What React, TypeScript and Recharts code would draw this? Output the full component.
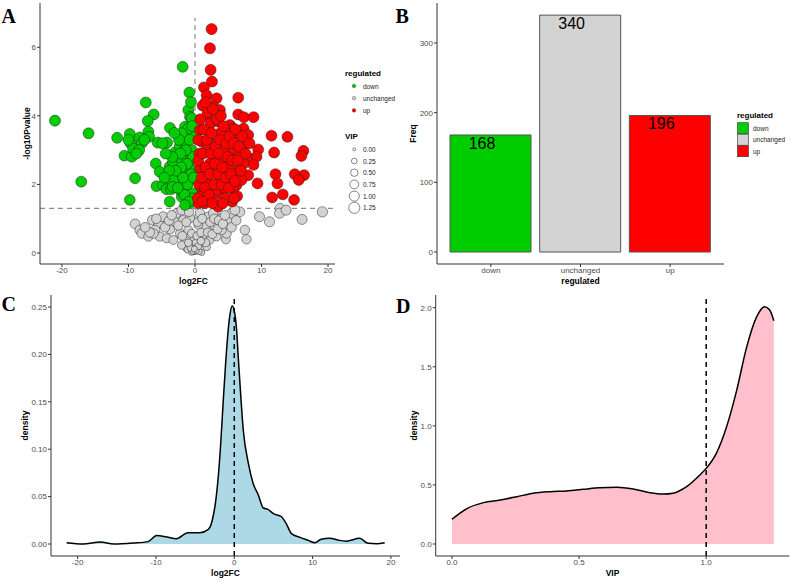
import React from "react";
import {
  ScatterChart,
  Scatter,
  XAxis,
  YAxis,
  ZAxis,
  ReferenceLine,
  BarChart,
  Bar,
  Cell,
  LabelList,
  AreaChart,
  Area,
  Label,
} from "recharts";

const FONT = "'Liberation Sans', Arial, sans-serif";

// volcano points: [log2FC, -log10Pvalue, VIP]
const downPoints: [number, number, number][] = [
  [-21.05, 3.86, 1.22], [-16.0, 3.49, 1.2], [-17.1, 2.08, 1.2], [-7.4, 4.39, 1.2], [-6.2, 4.04, 1.18],
  [-1.85, 5.43, 1.2], [-0.85, 4.68, 1.18], [-1.0, 4.17, 1.2], [-0.75, 3.97, 1.2], [-3.76, 3.65, 1.18],
  [-7.1, 3.85, 1.2], [-9.8, 1.55, 1.15], [-9.0, 2.18, 1.18], [-11.7, 3.36, 1.2], [-10.6, 2.84, 1.18],
  [-9.8, 3.47, 1.2], [-9.5, 2.81, 1.2], [-9.7, 3.2, 1.18], [-9.3, 3.05, 1.2], [-8.3, 3.37, 1.2],
  [-8.0, 3.2, 1.18], [-8.4, 3.0, 1.2], [-7.0, 3.54, 1.2], [-6.9, 3.39, 1.18], [-5.6, 3.22, 1.2],
  [-5.9, 2.61, 1.18], [-5.3, 2.37, 1.2], [-5.8, 1.95, 1.15], [-4.8, 1.98, 1.2], [-4.3, 1.86, 1.18],
  [-3.6, 1.86, 1.2], [-3.8, 1.5, 1.15], [-4.2, 3.22, 1.2], [-3.8, 2.52, 1.18], [-3.3, 2.66, 1.2],
  [-2.8, 2.27, 1.18], [-3.0, 2.93, 1.2], [-2.3, 3.1, 1.18], [-2.0, 2.73, 1.2], [-1.75, 2.42, 1.18],
  [-1.5, 3.25, 1.2], [-1.75, 2.95, 1.18], [-1.5, 3.68, 1.2], [-1.25, 1.93, 1.15], [-1.0, 1.55, 1.12],
  [-2.0, 1.64, 1.15], [-0.75, 2.13, 1.18], [-0.5, 2.42, 1.18], [-0.5, 3.0, 1.2], [-0.35, 3.39, 1.18],
  [-0.5, 3.93, 1.2], [-1.0, 3.63, 1.2], [-0.75, 1.45, 1.12], [-2.25, 1.84, 1.15], [-2.5, 2.08, 1.18],
  [-3.25, 2.13, 1.18], [-2.0, 3.49, 1.2], [-1.25, 2.81, 1.18], [-0.65, 2.71, 1.2], [-0.35, 1.74, 1.15],
  [-3.35, 1.93, 1.18], [-0.4, 1.6, 1.12], [-0.6, 2.3, 1.16], [-0.3, 2.8, 1.18], [-0.8, 3.3, 1.2],
  [-0.4, 3.7, 1.2], [-1.1, 2.0, 1.15], [-1.2, 2.6, 1.18], [-1.4, 3.0, 1.2], [-1.6, 1.7, 1.14],
  [-1.8, 2.2, 1.16], [-2.1, 2.5, 1.18], [-2.2, 2.9, 1.2], [-2.4, 3.3, 1.2], [-2.6, 1.9, 1.16],
  [-2.9, 2.4, 1.18], [-3.1, 3.5, 1.2], [-3.4, 2.8, 1.18], [-3.9, 2.4, 1.18], [-4.4, 2.9, 1.2],
  [-4.6, 2.2, 1.18], [-4.9, 3.2, 1.2], [-0.2, 2.2, 1.16], [-0.9, 1.5, 1.12], [-1.5, 1.4, 1.12],
  [-0.6, 4.4, 1.2], [-7.6, 3.3, 1.2], [-10.0, 3.3, 1.2], [-8.8, 2.9, 1.18],
];

const upPoints: [number, number, number][] = [
  [2.5, 6.53, 1.24], [2.25, 5.97, 1.22], [2.35, 5.34, 1.22], [2.55, 5.0, 1.22], [1.35, 4.83, 1.2],
  [1.75, 4.6, 1.2], [3.25, 4.51, 1.2], [6.5, 4.53, 1.2], [1.15, 4.3, 1.2], [2.75, 4.27, 1.2],
  [3.75, 4.17, 1.2], [2.0, 4.02, 1.2], [6.5, 4.04, 1.2], [7.35, 3.96, 1.2], [8.8, 3.96, 1.2],
  [2.35, 3.78, 1.2], [3.5, 3.83, 1.2], [5.25, 3.73, 1.2], [5.75, 3.63, 1.2], [7.3, 3.63, 1.2],
  [0.75, 3.59, 1.18], [4.5, 3.54, 1.2], [3.75, 3.49, 1.2], [6.65, 3.44, 1.2], [8.0, 3.44, 1.2],
  [11.5, 3.42, 1.2], [13.9, 3.39, 1.2], [1.0, 3.25, 1.18], [2.0, 3.3, 1.2], [3.25, 3.2, 1.2],
  [5.4, 3.25, 1.2], [7.3, 3.15, 1.2], [0.65, 2.9, 1.18], [2.75, 2.86, 1.2], [5.25, 2.9, 1.2],
  [6.25, 2.93, 1.2], [9.5, 3.02, 1.2], [9.25, 2.81, 1.2], [11.9, 2.93, 1.2], [16.3, 2.98, 1.2],
  [16.0, 2.83, 1.2], [8.8, 2.57, 1.2], [0.75, 2.47, 1.18], [3.25, 2.52, 1.2], [6.75, 2.52, 1.2],
  [5.0, 2.61, 1.2], [12.1, 2.3, 1.2], [15.0, 2.3, 1.2], [16.4, 2.27, 1.2], [1.25, 2.24, 1.18],
  [3.5, 2.27, 1.2], [5.75, 2.22, 1.2], [8.0, 2.27, 1.2], [12.4, 2.03, 1.2], [15.6, 2.13, 1.2],
  [9.4, 2.03, 1.2], [1.0, 1.89, 1.16], [2.75, 1.98, 1.18], [4.75, 2.05, 1.2], [6.25, 1.98, 1.18],
  [4.0, 1.74, 1.18], [5.75, 1.84, 1.18], [0.75, 1.64, 1.15], [2.25, 1.59, 1.16], [5.0, 1.55, 1.16],
  [3.5, 1.35, 1.14], [1.5, 1.45, 1.14], [11.6, 1.62, 1.18], [13.2, 1.71, 1.18], [14.9, 1.55, 1.18],
  [5.6, 1.5, 1.16], [0.5, 1.45, 1.12], [1.75, 3.04, 1.2], [4.25, 3.0, 1.2], [5.75, 3.05, 1.2],
  [7.8, 2.81, 1.2], [7.3, 2.61, 1.2], [3.75, 2.71, 1.2], [2.25, 2.61, 1.2], [4.25, 2.37, 1.2],
  [5.25, 2.42, 1.2], [6.25, 2.32, 1.2], [2.0, 2.08, 1.18], [7.0, 2.13, 1.2], [3.15, 1.84, 1.18],
  [4.5, 1.89, 1.18], [6.35, 1.66, 1.18], [2.75, 1.55, 1.16], [0.4, 1.6, 1.12], [0.6, 2.0, 1.16],
  [0.5, 2.7, 1.18], [0.5, 3.3, 1.18], [0.8, 3.9, 1.2], [1.0, 2.2, 1.18], [1.2, 2.9, 1.2],
  [1.3, 3.6, 1.2], [1.5, 1.9, 1.16], [1.6, 2.5, 1.18], [1.8, 3.3, 1.2], [1.9, 4.1, 1.2],
  [2.1, 1.7, 1.16], [2.2, 2.3, 1.18], [2.4, 2.9, 1.2], [2.5, 3.5, 1.2], [2.7, 4.2, 1.2],
  [2.9, 2.0, 1.18], [3.0, 2.6, 1.2], [3.1, 3.1, 1.2], [3.3, 3.9, 1.2], [3.5, 2.3, 1.18],
  [3.6, 2.9, 1.2], [3.8, 3.3, 1.2], [4.0, 2.0, 1.18], [4.1, 2.5, 1.2], [4.3, 3.7, 1.2],
  [4.5, 1.6, 1.16], [4.6, 2.2, 1.18], [4.7, 3.2, 1.2], [4.9, 2.8, 1.2], [5.1, 1.9, 1.18],
  [5.2, 3.4, 1.2], [5.4, 2.3, 1.18], [5.6, 2.7, 1.2], [5.8, 3.2, 1.2], [6.0, 2.1, 1.18],
  [6.1, 3.6, 1.2], [6.4, 2.7, 1.2], [6.6, 3.1, 1.2], [6.9, 2.4, 1.2], [7.1, 3.4, 1.2],
  [7.6, 2.9, 1.2], [8.2, 3.2, 1.2], [1.1, 1.5, 1.14], [2.6, 1.45, 1.14], [4.2, 1.45, 1.14],
  [5.9, 1.6, 1.16], [3.9, 4.0, 1.2], [1.6, 4.4, 1.2],
];

const unchangedPoints: [number, number, number][] = [
  [19.15, 1.2, 1.05], [16.1, 0.98, 1.0], [12.8, 1.3, 1.0], [12.7, 1.16, 1.0], [13.7, 1.25, 1.0],
  [9.7, 1.06, 1.0], [11.2, 0.91, 1.0], [6.75, 1.2, 0.95], [7.5, 0.67, 0.9], [7.75, 0.4, 0.85],
  [4.65, 0.4, 0.8], [5.25, 0.96, 0.95], [5.5, 1.16, 0.95], [3.75, 1.01, 0.9], [-9.0, 0.85, 0.95],
  [-8.3, 0.67, 0.9], [-8.0, 0.57, 0.9], [-7.0, 0.48, 0.85], [-6.4, 0.96, 0.95], [-5.5, 0.88, 0.9],
  [-4.8, 1.06, 0.95], [-5.3, 0.48, 0.85], [-3.75, 0.69, 0.85], [-3.0, 0.91, 0.9], [-2.75, 1.16, 0.9],
  [-2.0, 1.25, 0.9], [-1.75, 0.96, 0.85], [-2.25, 0.57, 0.8], [-1.5, 0.38, 0.7], [-1.0, 0.67, 0.75],
  [-0.75, 0.23, 0.55], [-0.25, 0.09, 0.4], [0.25, 0.14, 0.45], [0.75, 0.28, 0.55], [1.25, 0.48, 0.65],
  [1.5, 0.77, 0.75], [2.0, 1.06, 0.85], [2.75, 1.16, 0.9], [2.25, 0.38, 0.65], [3.0, 0.77, 0.8],
  [1.75, 0.18, 0.55], [-1.25, 0.14, 0.5], [-0.5, 0.57, 0.65], [0.5, 0.82, 0.75], [0.75, 1.16, 0.85],
  [-0.75, 1.01, 0.8], [0.0, 0.04, 0.3], [3.25, 0.48, 0.75], [1.0, 0.02, 0.35], [-6.0, 0.67, 0.9],
  [-4.25, 0.43, 0.8], [-3.25, 0.38, 0.75], [-6.25, 0.57, 0.9], [6.0, 1.25, 0.95], [4.75, 0.57, 0.85],
  [4.0, 0.67, 0.85], [-2.0, 0.23, 0.65], [0.65, 0.38, 0.6], [-4.5, 0.75, 0.9], [-3.9, 0.95, 0.9],
  [-3.5, 1.1, 0.9], [-2.5, 0.8, 0.85], [-1.9, 0.5, 0.75], [-1.3, 0.9, 0.8], [-0.9, 1.2, 0.85],
  [-0.4, 0.35, 0.55], [-0.2, 0.2, 0.4], [0.1, 0.3, 0.45], [0.3, 0.5, 0.6], [0.4, 0.9, 0.75],
  [0.9, 0.6, 0.7], [1.1, 1.0, 0.8], [1.6, 0.3, 0.6], [1.9, 0.6, 0.7], [2.3, 0.9, 0.8],
  [2.6, 0.55, 0.75], [2.9, 1.0, 0.85], [3.4, 0.7, 0.8], [3.6, 0.95, 0.85], [4.2, 0.85, 0.85],
  [4.5, 1.1, 0.9], [5.5, 0.75, 0.9], [6.2, 0.95, 0.9], [-6.8, 0.6, 0.9], [-7.5, 0.75, 0.9],
  [-5.8, 1.0, 0.9], [-1.1, 0.1, 0.45], [0.6, 0.05, 0.35], [-0.5, 0.02, 0.3], [0.2, 0.15, 0.35],
  [-0.3, 0.05, 0.3], [0.2, 0.08, 0.3], [0.5, 0.2, 0.45], [-0.7, 0.15, 0.4], [-0.1, 0.12, 0.3],
  [0.9, 0.35, 0.55], [-1.0, 0.3, 0.55],
];

const regulatedCats = ["down", "unchanged", "up"];
const regulatedFreq = [168, 340, 196];
const regulatedColors = ["#00CD00", "#D3D3D3", "#FF0000"];

const fcDensityX = [
  -21.4, -19.3, -17.1, -15.4, -12.9, -11, -9.9, -8.6, -7.4, -5.9, -4.4, -3.3, -2.7, -2.3, -2, -1.7, -1.4,
  -1.1, -0.77, -0.55, -0.26, 0.09, 0.3, 0.5, 0.72, 1.15, 1.8, 2.4, 3.06, 3.7, 4.3, 5, 6, 6.6, 7.3, 8.4,
  9.4, 10.3, 11.1, 12.2, 13.3, 14.3, 16, 17.1, 18.2, 19.2,
];
const fcDensityY = [
  0.0014, 0, 0.002, 0, 0.001, 0.0025, 0.009, 0.0074, 0.0056, 0.012, 0.012, 0.0155, 0.029, 0.05, 0.075,
  0.11, 0.152, 0.191, 0.226, 0.242, 0.251, 0.242, 0.226, 0.198, 0.17, 0.12, 0.085, 0.064, 0.052, 0.038,
  0.0366, 0.032, 0.029, 0.022, 0.011, 0.007, 0.004, 0.0014, 0.005, 0.006, 0.004, 0.003, 0.006, 0.0007,
  0.0003, 0.0014,
];

const vipDensityX = [
  0, 0.059, 0.124, 0.19, 0.255, 0.32, 0.386, 0.45, 0.517, 0.58, 0.648, 0.713, 0.779, 0.83, 0.87, 0.923,
  0.975, 1.0, 1.04, 1.08, 1.12, 1.158, 1.198, 1.23, 1.25, 1.266,
];
const vipDensityY = [
  0.209, 0.3, 0.35, 0.372, 0.4, 0.43, 0.443, 0.449, 0.463, 0.477, 0.48, 0.465, 0.434, 0.423, 0.43, 0.485,
  0.584, 0.64, 0.767, 0.99, 1.3, 1.656, 1.92, 2.008, 1.98, 1.89,
];

const vipBreaks = [0, 0.25, 0.5, 0.75, 1, 1.25];

const toRows = (pts: [number, number, number][]) => pts.map(([x, y, vip]) => ({ x, y, vip }));
const barRows = regulatedCats.map((name, i) => ({ name, freq: regulatedFreq[i] }));
const fcRows = fcDensityX.map((x, i) => ({ x, y: fcDensityY[i] }));
const vipRows = vipDensityX.map((x, i) => ({ x, y: vipDensityY[i] }));

const SIZE_RANGE: [number, number] = [7, 98];
const vipRadius = (v: number) => Math.sqrt((SIZE_RANGE[0] + ((SIZE_RANGE[1] - SIZE_RANGE[0]) * v) / 1.25) / Math.PI);

const tickStyle = { fontSize: 8, fill: "#4D4D4D", fontFamily: FONT };
const axisLine = { stroke: "#333", strokeWidth: 1 };
const tickLine = { stroke: "#333", strokeWidth: 1 };

const XTitle = ({ viewBox, text, dx = 0 }: any) => (
  <text
    x={viewBox.x + viewBox.width / 2 + dx}
    y={viewBox.y + 17}
    textAnchor="middle"
    dominantBaseline="central"
    fontSize={8.5}
    fontWeight="bold"
    fill="#000"
    fontFamily={FONT}
  >
    {text}
  </text>
);

const YTitle = ({ viewBox, text, cx }: any) => (
  <text
    transform={`translate(${viewBox.x + cx},${viewBox.y + viewBox.height / 2}) rotate(-90)`}
    textAnchor="middle"
    dominantBaseline="central"
    fontSize={8.5}
    fontWeight="bold"
    fill="#000"
    fontFamily={FONT}
  >
    {text}
  </text>
);

const BarValue = (props: any) => {
  const { x, y, width, value } = props;
  return (
    <text
      x={x + width / 2 - 8.5}
      y={y + 8.5}
      textAnchor="middle"
      dominantBaseline="central"
      fontSize={16}
      fill="#000"
      fontFamily={FONT}
    >
      {value}
    </text>
  );
};

export default function App() {
  return (
    <div style={{ position: "absolute", left: 0, top: 0, width: 791, height: 582, background: "#fff", fontFamily: FONT }}>
      {/* A: volcano */}
      <div style={{ position: "absolute", left: 0, top: 0 }}>
        <ScatterChart width={395} height={290} margin={{ top: 3, right: 60, bottom: 0, left: 0 }}>
          <XAxis
            type="number"
            dataKey="x"
            domain={[-23.3, 21.05]}
            ticks={[-20, -10, 0, 10, 20]}
            allowDataOverflow
            height={26}
            tick={tickStyle}
            tickSize={3}
            tickMargin={0}
            axisLine={axisLine}
            tickLine={tickLine}
          >
            <Label content={<XTitle text="log2FC" dx={6} />} />
          </XAxis>
          <YAxis
            type="number"
            dataKey="y"
            domain={[-0.32, 7.29]}
            ticks={[0, 2, 4, 6]}
            allowDataOverflow
            width={40}
            tick={tickStyle}
            tickSize={3}
            tickMargin={1}
            axisLine={axisLine}
            tickLine={tickLine}
          >
            <Label content={<YTitle text="-log10Pvalue" cx={27} />} />
          </YAxis>
          <ZAxis type="number" dataKey="vip" domain={[0, 1.25]} range={SIZE_RANGE} />
          <ReferenceLine y={1.3} stroke="#8C8C8C" strokeDasharray="5 4" strokeWidth={1.2} />
          <ReferenceLine
            segment={[{ x: 0, y: -0.32 }, { x: 0, y: 6.86 }]}
            stroke="#8C8C8C"
            strokeDasharray="5 4"
            strokeWidth={1.2}
          />
          <Scatter data={toRows(unchangedPoints)} fill="#D3D3D3" stroke="#222" strokeWidth={0.5} isAnimationActive={false} />
          <Scatter data={toRows(downPoints)} fill="#00CD00" stroke="#222" strokeWidth={0.5} isAnimationActive={false} />
          <Scatter data={toRows(upPoints)} fill="#FF0000" stroke="#222" strokeWidth={0.5} isAnimationActive={false} />
        </ScatterChart>
      </div>

      {/* B: counts */}
      <div style={{ position: "absolute", left: 400, top: 0 }}>
        <BarChart width={391} height={290} data={barRows} margin={{ top: 3, right: 67, bottom: 0, left: 0 }}>
          <XAxis
            dataKey="name"
            padding={{ left: 9, right: 9 }}
            height={26}
            tick={tickStyle}
            tickSize={3}
            tickMargin={0}
            axisLine={axisLine}
            tickLine={tickLine}
          >
            <Label content={<XTitle text="regulated" />} />
          </XAxis>
          <YAxis
            type="number"
            domain={[-17.2, 357.4]}
            ticks={[0, 100, 200, 300]}
            allowDataOverflow
            width={37}
            tick={tickStyle}
            tickSize={3}
            tickMargin={1}
            axisLine={axisLine}
            tickLine={tickLine}
          >
            <Label content={<YTitle text="Freq" cx={13} />} />
          </YAxis>
          <Bar dataKey="freq" barSize={81} stroke="#555" strokeWidth={1} isAnimationActive={false}>
            {barRows.map((r, i) => (
              <Cell key={r.name} fill={regulatedColors[i]} />
            ))}
            <LabelList dataKey="freq" content={BarValue} />
          </Bar>
        </BarChart>
      </div>

      {/* C: log2FC density */}
      <div style={{ position: "absolute", left: 0, top: 290 }}>
        <AreaChart width={400} height={292} data={fcRows} margin={{ top: 5, right: 0, bottom: 0, left: 0 }}>
          <XAxis
            type="number"
            dataKey="x"
            domain={[-23.4, 21.16]}
            ticks={[-20, -10, 0, 10, 20]}
            allowDataOverflow
            height={26}
            tick={tickStyle}
            tickSize={3}
            tickMargin={0}
            axisLine={axisLine}
            tickLine={tickLine}
          >
            <Label content={<XTitle text="log2FC" />} />
          </XAxis>
          <YAxis
            type="number"
            domain={[-0.01266, 0.2627]}
            ticks={[0, 0.05, 0.1, 0.15, 0.2, 0.25]}
            tickFormatter={(v: number) => v.toFixed(2)}
            allowDataOverflow
            width={51}
            tick={tickStyle}
            tickSize={3}
            tickMargin={1}
            axisLine={axisLine}
            tickLine={tickLine}
          >
            <Label content={<YTitle text="density" cx={25} />} />
          </YAxis>
          <Area
            type="monotone"
            dataKey="y"
            fill="#ADD8E6"
            fillOpacity={1}
            stroke="#000"
            strokeWidth={1.5}
            isAnimationActive={false}
          />
          <ReferenceLine x={0} stroke="#000" strokeDasharray="5 4" strokeWidth={1.5} />
        </AreaChart>
      </div>

      {/* D: VIP density */}
      <div style={{ position: "absolute", left: 400, top: 290 }}>
        <AreaChart width={391} height={292} data={vipRows} margin={{ top: 5, right: 1.7, bottom: 0, left: 0 }}>
          <XAxis
            type="number"
            dataKey="x"
            domain={[-0.064, 1.327]}
            ticks={[0, 0.5, 1]}
            tickFormatter={(v: number) => v.toFixed(1)}
            allowDataOverflow
            height={26}
            tick={tickStyle}
            tickSize={3}
            tickMargin={0}
            axisLine={axisLine}
            tickLine={tickLine}
          >
            <Label content={<XTitle text="VIP" />} />
          </XAxis>
          <YAxis
            type="number"
            domain={[-0.1017, 2.1076]}
            ticks={[0, 0.5, 1, 1.5, 2]}
            tickFormatter={(v: number) => v.toFixed(1)}
            allowDataOverflow
            width={35.7}
            tick={tickStyle}
            tickSize={3}
            tickMargin={1}
            axisLine={axisLine}
            tickLine={tickLine}
          >
            <Label content={<YTitle text="density" cx={14} />} />
          </YAxis>
          <Area
            type="monotone"
            dataKey="y"
            fill="#FFC0CB"
            fillOpacity={1}
            stroke="#000"
            strokeWidth={1.5}
            isAnimationActive={false}
          />
          <ReferenceLine x={1} stroke="#000" strokeDasharray="5 4" strokeWidth={1.5} />
        </AreaChart>
      </div>

      {/* panel letters and legends */}
      <svg width={791} height={582} style={{ position: "absolute", left: 0, top: 0, pointerEvents: "none" }}>
        <g fontFamily="'Liberation Serif', 'Times New Roman', serif" fontWeight="bold" fontSize={20} fill="#000">
          <text x={1.5} y={23}>A</text>
          <text x={395.5} y={23}>B</text>
          <text x={1.5} y={311}>C</text>
          <text x={396} y={313}>D</text>
        </g>

        <g fontFamily={FONT} fill="#000">
          <text x={345} y={73} dominantBaseline="central" fontSize={8} fontWeight="bold">regulated</text>
          {regulatedCats.map((c, i) => (
            <g key={c}>
              <circle cx={354} cy={86 + i * 12.2} r={1.8} fill={regulatedColors[i]} stroke="#333" strokeWidth={0.4} />
              <text x={363} y={86 + i * 12.2} dominantBaseline="central" fontSize={6.5} fill="#222">
                {c}
              </text>
            </g>
          ))}
          <text x={345} y={136} dominantBaseline="central" fontSize={8} fontWeight="bold">VIP</text>
          {vipBreaks.map((v, i) => (
            <g key={v}>
              <circle cx={354.3} cy={149.3 + i * 11.7} r={vipRadius(v)} fill="none" stroke="#333" strokeWidth={0.6} />
              <text x={363} y={149.3 + i * 11.7} dominantBaseline="central" fontSize={6.5} fill="#222">
                {v.toFixed(2)}
              </text>
            </g>
          ))}
        </g>

        <g fontFamily={FONT} fill="#000">
          <text x={737} y={115} dominantBaseline="central" fontSize={8} fontWeight="bold">regulated</text>
          {regulatedCats.map((c, i) => (
            <g key={c}>
              <rect x={737.5} y={122.7 + i * 11.5} width={11} height={11} fill={regulatedColors[i]} stroke="#333" strokeWidth={0.6} />
              <text x={753} y={128.2 + i * 11.5} dominantBaseline="central" fontSize={6.5} fill="#222">
                {c}
              </text>
            </g>
          ))}
        </g>
      </svg>
    </div>
  );
}
